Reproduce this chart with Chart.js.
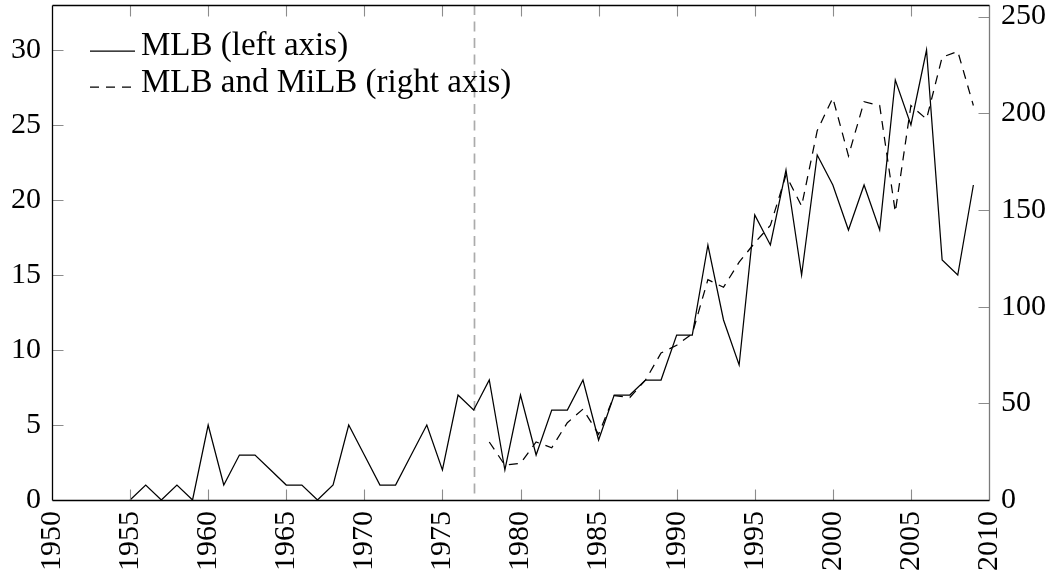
<!DOCTYPE html>
<html>
<head>
<meta charset="utf-8">
<title>Ejections per season</title>
<script src="https://cdn.jsdelivr.net/npm/chart.js@4.4.1/dist/chart.umd.min.js"></script>
<style>
  html, body { margin: 0; padding: 0; background: #ffffff; overflow: hidden; }
  canvas { display: block; }
</style>
</head>
<body>
<canvas id="chart" width="1053" height="577"></canvas>
<script>
// Seasons and yearly counts, MLB only (left axis)
const mlbYears = [1955, 1956, 1957, 1958, 1959, 1960, 1961, 1962, 1963, 1964,
                  1965, 1966, 1967, 1968, 1969, 1970, 1971, 1972, 1973, 1974,
                  1975, 1976, 1977, 1978, 1979, 1980, 1981, 1982, 1983, 1984,
                  1985, 1986, 1987, 1988, 1989, 1990, 1991, 1992, 1993, 1994,
                  1995, 1996, 1997, 1998, 1999, 2000, 2001, 2002, 2003, 2004,
                  2005, 2006, 2007, 2008, 2009];
const mlbCounts = [0, 1, 0, 1, 0, 5, 1, 3, 3, 2,
                   1, 1, 0, 1, 5, 3, 1, 1, 3, 5,
                   2, 7, 6, 8, 2, 7, 3, 6, 6, 8,
                   4, 7, 7, 8, 8, 11, 11, 17, 12, 9,
                   19, 17, 22, 15, 23, 21, 18, 21, 18, 28,
                   25, 30, 16, 15, 21];

// Seasons and yearly counts, MLB and MiLB combined (right axis)
const milbYears = [1978, 1979, 1980, 1981, 1982, 1983, 1984, 1985, 1986, 1987,
                   1988, 1989, 1990, 1991, 1992, 1993, 1994, 1995, 1996, 1997,
                   1998, 1999, 2000, 2001, 2002, 2003, 2004, 2005, 2006, 2007,
                   2008, 2009];
const milbCounts = [30, 18, 19, 30, 27, 40, 47, 34, 54, 53,
                    62, 76, 80, 86, 114, 110, 123, 133, 142, 168,
                    152, 191, 208, 178, 206, 204, 149, 204, 197, 229,
                    232, 204];

// Tick labels
const xTickValues = [1950, 1955, 1960, 1965, 1970, 1975, 1980, 1985, 1990, 1995, 2000, 2005, 2010];
const leftTickValues = [0, 5, 10, 15, 20, 25, 30];
const rightTickValues = [0, 50, 100, 150, 200, 250];

// Reference season marked by a vertical dashed rule
const markerYear = 1977;

const seriesLabels = ['MLB (left axis)', 'MLB and MiLB (right axis)'];

const FONT = "'Liberation Serif', 'Times New Roman', serif";

function toPoints(xs, ys) {
  return xs.map((x, i) => ({ x: x, y: ys[i] }));
}

// Axes keep a fixed size and ask for no extra room for overhanging labels
function fixSize(prop, size) {
  return s => {
    s[prop] = size;
    s.paddingTop = 0; s.paddingBottom = 0;
    s.paddingLeft = 0; s.paddingRight = 0;
  };
}

// Frame, inward tick marks, marker rule and in-plot legend
const framePlugin = {
  id: 'frame',
  beforeDatasetsDraw(chart) {
    const { ctx, chartArea: a, scales } = chart;
    const x = Math.round(scales.x.getPixelForValue(markerYear)) + 0.5;
    ctx.save();
    ctx.strokeStyle = '#ababab';
    ctx.lineWidth = 1.7;
    ctx.setLineDash([10, 6.5]);
    ctx.beginPath();
    ctx.moveTo(x, a.top);
    ctx.lineTo(x, a.bottom);
    ctx.stroke();
    ctx.restore();
  },
  afterDatasetsDraw(chart) {
    const { ctx, chartArea: a, scales } = chart;
    const L = a.left + 0.5, R = a.right + 0.5, T = a.top + 0.5, B = a.bottom + 0.5;
    const len = 11;
    ctx.save();
    ctx.setLineDash([]);
    ctx.strokeStyle = '#8c8c8c';
    ctx.lineWidth = 1.1;
    ctx.beginPath();
    xTickValues.forEach(v => {
      if (v === scales.x.min || v === scales.x.max) return;
      const px = Math.round(scales.x.getPixelForValue(v)) + 0.5;
      ctx.moveTo(px, B); ctx.lineTo(px, B - len);
      ctx.moveTo(px, T); ctx.lineTo(px, T + len);
    });
    leftTickValues.forEach(v => {
      if (v === scales.y.min) return;
      const py = Math.round(scales.y.getPixelForValue(v)) + 0.5;
      ctx.moveTo(L, py); ctx.lineTo(L + len, py);
    });
    rightTickValues.forEach(v => {
      if (v === scales.y1.min) return;
      const py = Math.round(scales.y1.getPixelForValue(v)) + 0.5;
      ctx.moveTo(R, py); ctx.lineTo(R - len, py);
    });
    ctx.stroke();

    // right spine (grey), then left/top/bottom spines (black)
    ctx.strokeStyle = '#7a7a7a';
    ctx.lineWidth = 1.3;
    ctx.beginPath();
    ctx.moveTo(R, T); ctx.lineTo(R, B);
    ctx.stroke();
    ctx.strokeStyle = '#000000';
    ctx.beginPath();
    ctx.moveTo(L, T); ctx.lineTo(R, T);
    ctx.moveTo(L, T); ctx.lineTo(L, B);
    ctx.moveTo(L, B); ctx.lineTo(R, B);
    ctx.stroke();
    ctx.restore();
  },
  afterDraw(chart) {
    const { ctx, chartArea: a } = chart;
    ctx.save();
    ctx.font = '33px ' + FONT;
    ctx.fillStyle = '#000000';
    ctx.textBaseline = 'alphabetic';
    ctx.textAlign = 'left';
    chart.data.datasets.forEach((ds, i) => {
      const lineY = a.top + 46 + i * 36;
      const baseY = a.top + 50 + i * 36.7;
      ctx.strokeStyle = ds.borderColor;
      ctx.lineWidth = ds.borderWidth;
      ctx.setLineDash(ds.borderDash || []);
      ctx.beginPath();
      ctx.moveTo(a.left + 38, lineY);
      ctx.lineTo(a.left + 83, lineY);
      ctx.stroke();
      ctx.fillText(ds.label, a.left + 89, baseY);
    });
    ctx.restore();
  }
};

new Chart(document.getElementById('chart'), {
  type: 'line',
  data: {
    datasets: [
      {
        label: seriesLabels[0],
        data: toPoints(mlbYears, mlbCounts),
        yAxisID: 'y',
        borderColor: '#000000',
        borderWidth: 1.25,
        pointRadius: 0,
        tension: 0,
        fill: false
      },
      {
        label: seriesLabels[1],
        data: toPoints(milbYears, milbCounts),
        yAxisID: 'y1',
        borderColor: '#000000',
        borderWidth: 1.25,
        borderDash: [9, 7],
        pointRadius: 0,
        tension: 0,
        fill: false
      }
    ]
  },
  options: {
    responsive: false,
    animation: false,
    devicePixelRatio: 1,
    layout: { padding: { top: 5, left: 0, right: 0, bottom: 0 } },
    plugins: {
      legend: { display: false },
      tooltip: { enabled: false }
    },
    scales: {
      x: {
        type: 'linear',
        min: 1950,
        max: 2010,
        grid: { display: false, drawTicks: false },
        border: { display: false },
        afterBuildTicks: s => { s.ticks = xTickValues.map(v => ({ value: v })); },
        afterFit: fixSize('height', 77),
        ticks: {
          autoSkip: false,
          minRotation: 90,
          maxRotation: 90,
          padding: 11,
          color: '#000000',
          font: { family: FONT, size: 30 },
          callback: v => String(v)
        }
      },
      y: {
        type: 'linear',
        position: 'left',
        min: 0,
        max: 33,
        grid: { display: false, drawTicks: false },
        border: { display: false },
        afterBuildTicks: s => { s.ticks = leftTickValues.map(v => ({ value: v })); },
        afterFit: fixSize('width', 52),
        ticks: {
          padding: 11,
          color: '#000000',
          font: { family: FONT, size: 30 },
          callback: v => String(v)
        }
      },
      y1: {
        type: 'linear',
        position: 'right',
        min: 0,
        max: 256,
        grid: { display: false, drawTicks: false },
        border: { display: false },
        afterBuildTicks: s => { s.ticks = rightTickValues.map(v => ({ value: v })); },
        afterFit: fixSize('width', 64),
        ticks: {
          padding: 12,
          color: '#000000',
          font: { family: FONT, size: 30 },
          callback: v => String(v)
        }
      }
    }
  },
  plugins: [framePlugin]
});
</script>
</body>
</html>
